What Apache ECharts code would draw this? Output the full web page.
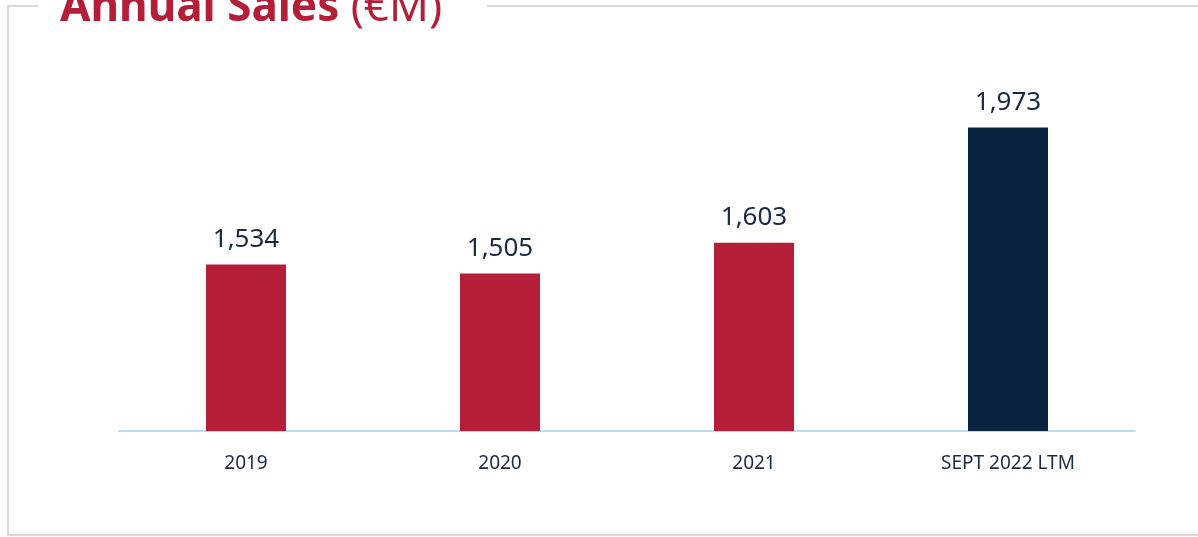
<!DOCTYPE html>
<html>
<head>
<meta charset="utf-8">
<script src="https://cdn.jsdelivr.net/npm/echarts@6/dist/echarts.min.js"></script>
<style>
html,body{margin:0;padding:0;background:#fff;}
#chart{width:1198px;height:537px;}
</style>
</head>
<body>
<div id="chart"></div>
<script>
var categories = ['2019', '2020', '2021', 'SEPT 2022 LTM'];
var sales = [1534, 1505, 1603, 1973];
var barColors = ['#b51e38', '#b51e38', '#b51e38', '#0a2340'];
var titleMain = 'Annual Sales';
var titleUnit = '(€M)';

var chart = echarts.init(document.getElementById('chart'));
var FONT = '"Noto Sans", sans-serif';
chart.setOption({
  animation: false,
  grid: {left: 119, right: 63, top: 119, bottom: 106, containLabel: false},
  xAxis: {
    type: 'category',
    data: categories,
    axisLine: {lineStyle: {color: '#bcd9f5', width: 2}},
    axisTick: {show: false},
    axisLabel: {color: '#1b2a44', fontSize: 19, fontFamily: FONT, margin: 23}
  },
  yAxis: {
    type: 'value', min: 1000, max: 2000, show: false,
    splitLine: {show: false}
  },
  series: [{
    type: 'bar',
    barWidth: 80,
    data: sales.map(function (v, i) { return {value: v, itemStyle: {color: barColors[i]}}; }),
    label: {
      show: true, position: 'top', distance: 12,
      color: '#1b2a44', fontSize: 26, fontFamily: FONT,
      formatter: function (p) { return p.value.toLocaleString('en-US'); }
    }
  }],
  graphic: [
    {type: 'polyline', shape: {points: [[38, 6], [8, 6], [8, 535], [1198, 535]]},
     style: {stroke: '#d9d9d9', lineWidth: 2, fill: null}},
    {type: 'line', shape: {x1: 487, y1: 6, x2: 1198, y2: 6},
     style: {stroke: '#d9d9d9', lineWidth: 2}},
    {type: 'text', left: 60, top: -14,
     style: {
       text: '{b|' + titleMain + '}{n|\u00a0' + titleUnit + '}',
       rich: {
         b: {fontSize: 44, fontWeight: 'bold', fill: '#b51e38', fontFamily: FONT},
         n: {fontSize: 44, fontWeight: 'normal', fill: '#b51e38', fontFamily: FONT}
       }
     }}
  ]
});
</script>
</body>
</html>
